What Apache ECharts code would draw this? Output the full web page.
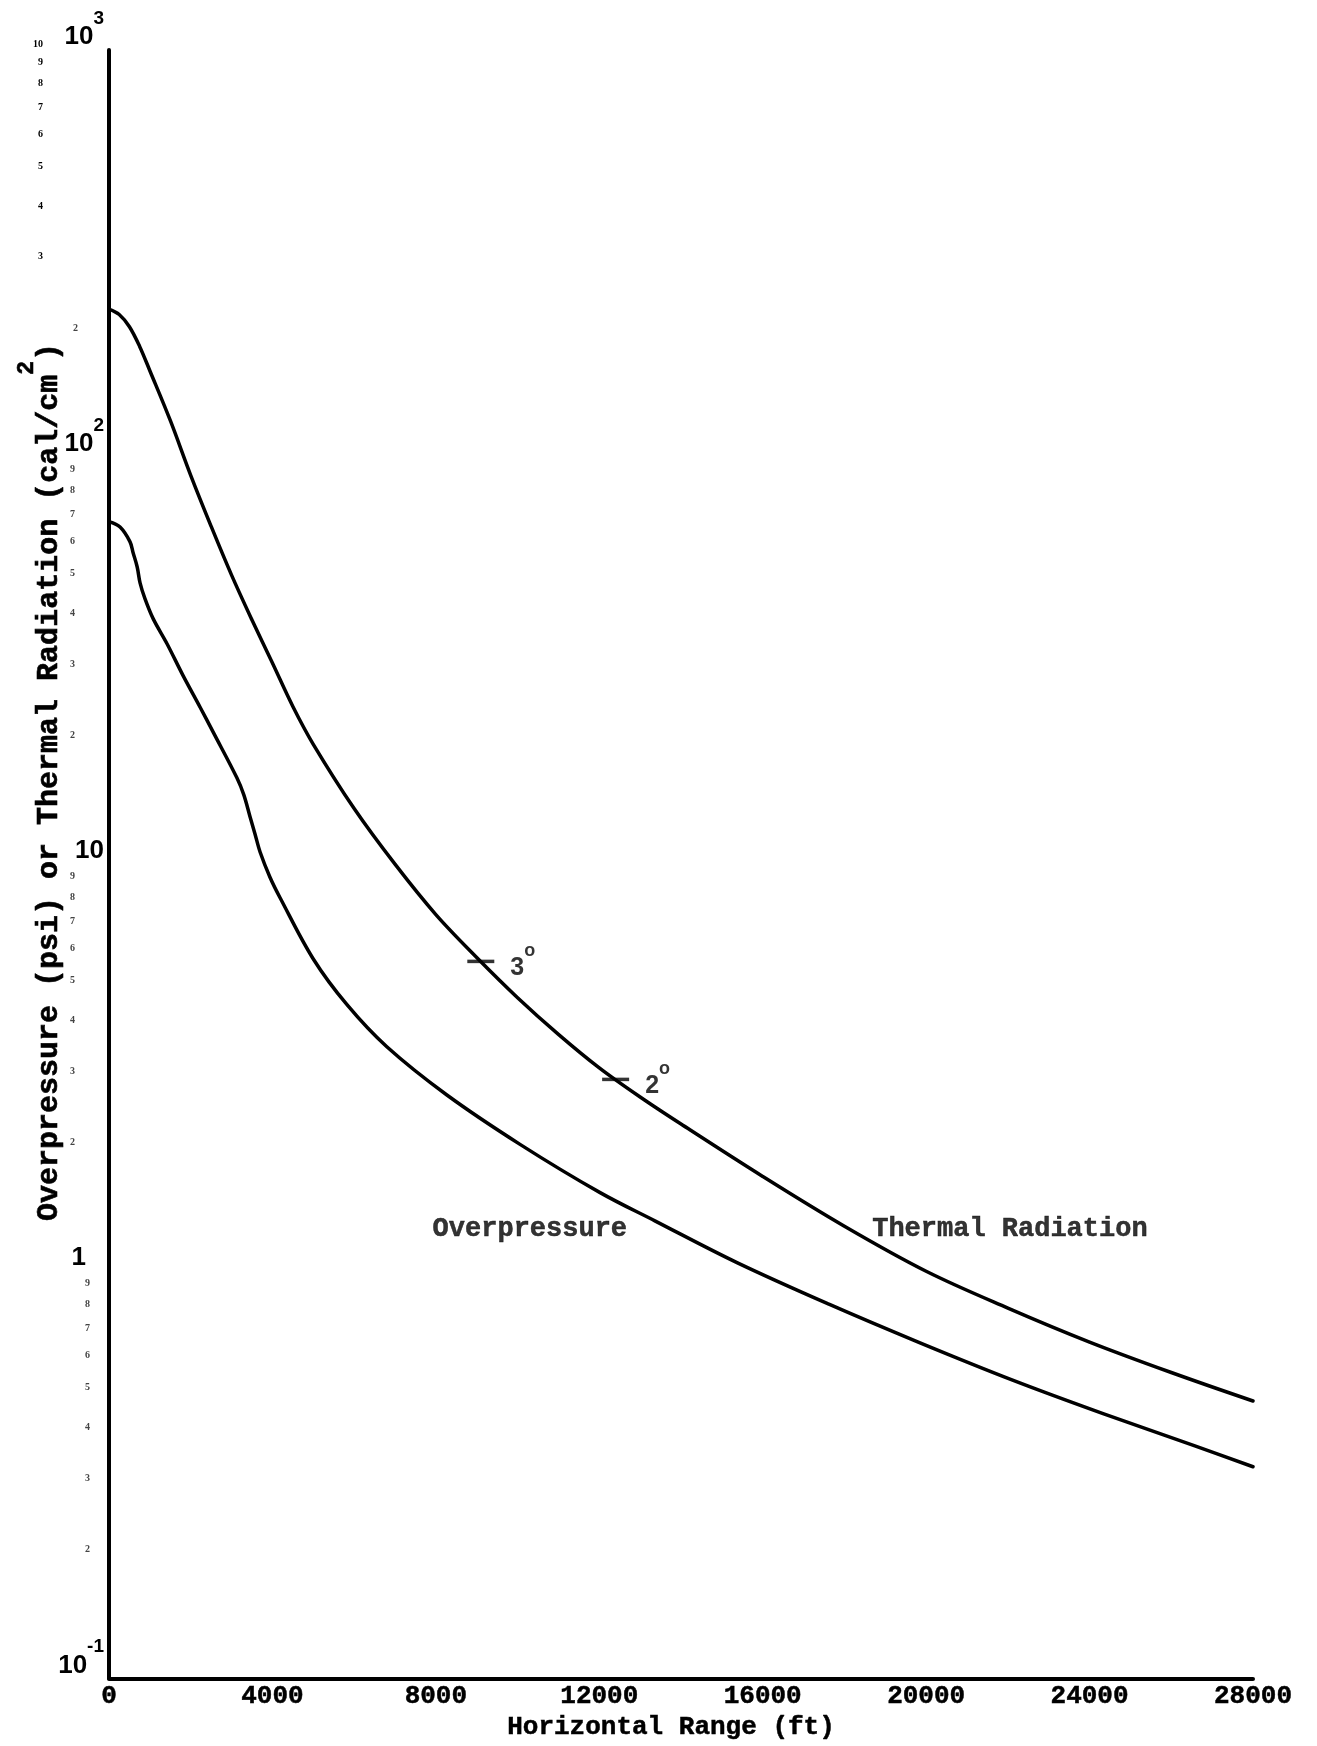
<!DOCTYPE html>
<html>
<head>
<meta charset="utf-8">
<script src="https://cdn.jsdelivr.net/npm/echarts@6/dist/echarts.min.js"></script>
<style>html,body{margin:0;padding:0;background:#fff}#c{width:1317px;height:1746px}</style>
</head>
<body>
<div id="c"></div>
<script>
// ---- data ----
const rangeThermal = [0, 250, 500, 750, 1000, 1500, 2000, 2500, 3000, 3500, 4000, 4500, 5000, 6000, 7000, 8000, 9000, 10000, 11000, 12000, 13000, 14000, 16000, 18000, 20000, 22000, 24000, 26000, 28000];
const thermal      = [231, 224, 209, 187, 163, 123, 90.2, 67.6, 51.3, 39.8, 31.2, 24.4, 19.7, 13.7, 10.0, 7.52, 5.90, 4.70, 3.82, 3.16, 2.68, 2.30, 1.71, 1.29, 1.00, 0.812, 0.670, 0.564, 0.480];

const rangeOver    = [0, 270, 515, 590, 690, 760, 880, 1080, 1420, 1810, 2230, 2550, 3130, 3300, 3450, 3570, 3700, 3940, 4190, 5000, 5830, 6800, 8270, 10060, 12020, 13360, 15370, 17620, 19850, 22100, 24330, 26560, 28000];
const overpressure = [69.4, 67.3, 61.9, 58.2, 53.7, 49.1, 44.9, 40.1, 34.8, 29.1, 24.3, 21.1, 16.3, 14.8, 13.1, 11.9, 10.7, 9.29, 8.26, 5.85, 4.51, 3.56, 2.71, 2.05, 1.56, 1.33, 1.05, 0.830, 0.667, 0.541, 0.447, 0.373, 0.331];

// elevation-angle marks on the thermal curve
const markRange = [9100, 12400];
const markValue = [5.77, 2.96];
const markAngle = ['3', '2'];

// curve name annotations
const curveLabelNames = ['Overpressure', 'Thermal Radiation'];
const curveLabelRange = [10300, 22050];
const curveLabelValue = [1.27, 1.27];

// axis tick labels
const xMin = 0, xMax = 28000, xInterval = 4000;
const yMajorExp  = [-1, 0, 1, 2, 3];
const yMajorBase = ['10', '1', '10', '10', '10'];
const yMajorSup  = ['-1', '', '', '2', '3'];
const minorTickValues = [0.2,0.3,0.4,0.5,0.6,0.7,0.8,0.9, 2,3,4,5,6,7,8,9, 20,30,40,50,60,70,80,90, 200,300,400,500,600,700,800,900,1000];
const minorTickLabels = ['2','3','4','5','6','7','8','9', '2','3','4','5','6','7','8','9', '2','3','4','5','6','7','8','9', '2','3','4','5','6','7','8','9','10'];

const xTitle = 'Horizontal Range (ft)';
const yTitleMain = 'Overpressure (psi) or Thermal Radiation (cal/cm';

// ---- chart ----
const chart = echarts.init(document.getElementById('c'), null, {renderer: 'canvas'});
const mono = '"Liberation Mono", "DejaVu Sans Mono", monospace';
const sans = '"Liberation Sans", "DejaVu Sans", sans-serif';

function minorOffset(v) {
  if (v >= 300) return 66;
  if (v >= 100) return 31;
  if (v >= 1) return 34;
  return 19;
}

const option = {
  backgroundColor: '#ffffff',
  animation: false,
  grid: {left: 109, right: 64, top: 50, bottom: 43, containLabel: false},
  xAxis: {
    type: 'value', min: xMin, max: xMax, interval: xInterval,
    name: xTitle, nameLocation: 'middle', nameGap: 24,
    nameTextStyle: {fontFamily: mono, fontWeight: 'bold', fontSize: 26, color: '#000',
      textBorderColor: '#000', textBorderWidth: 0.5, padding: [0, 20, 0, 0]},
    axisLine: {show: true, lineStyle: {color: '#000', width: 4}},
    axisTick: {show: false},
    splitLine: {show: false},
    axisLabel: {margin: 5, fontFamily: mono, fontWeight: 'bold', fontSize: 26, color: '#000',
      textBorderColor: '#000', textBorderWidth: 0.5,
      formatter: v => String(v)}
  },
  yAxis: {
    type: 'log', logBase: 10, min: 0.1, max: 1000,
    axisLine: {show: true, onZero: false, lineStyle: {color: '#000', width: 4}},
    axisTick: {show: false},
    splitLine: {show: false},
    axisLabel: {
      margin: 5, verticalAlign: 'bottom',
      formatter: function (v) {
        const e = Math.round(Math.log10(v));
        const i = yMajorExp.indexOf(e);
        if (i < 0) return '';
        if (yMajorBase[i] === '1') return '{one|1}';
        return '{b|' + yMajorBase[i] + '}' + (yMajorSup[i] ? '{s|' + yMajorSup[i] + '}' : '');
      },
      rich: {
        b: {fontFamily: sans, fontWeight: 'bold', fontSize: 26, color: '#000', lineHeight: 27, verticalAlign: 'bottom'},
        s: {fontFamily: sans, fontWeight: 'bold', fontSize: 19, color: '#000', lineHeight: 41, verticalAlign: 'top'},
        one: {fontFamily: sans, fontWeight: 'bold', fontSize: 26, color: '#000', lineHeight: 27, padding: [0, 18, 0, 0]}
      }
    }
  },
  graphic: [{
    type: 'text', x: 40, y: 782, rotation: Math.PI / 2,
    style: {
      text: '{t|' + yTitleMain + '}{s|2}{t|)}',
      align: 'center', verticalAlign: 'middle',
      rich: {
        t: {fontFamily: mono, fontWeight: 'bold', fontSize: 30, fill: '#000', stroke: '#000', lineWidth: 0.6, lineHeight: 32, verticalAlign: 'bottom'},
        s: {fontFamily: mono, fontWeight: 'bold', fontSize: 23, fill: '#000', stroke: '#000', lineWidth: 0.6, lineHeight: 48, verticalAlign: 'top'}
      }
    }
  }],
  series: [
    {
      type: 'line', name: 'Thermal Radiation',
      data: rangeThermal.map((x, i) => [x, thermal[i]]),
      smooth: 0.35, showSymbol: false, symbol: 'none',
      lineStyle: {color: '#000', width: 3.5, cap: 'round', join: 'round'},
      z: 3
    },
    {
      type: 'line', name: 'Overpressure',
      data: rangeOver.map((x, i) => [x, overpressure[i]]),
      smooth: 0.35, showSymbol: false, symbol: 'none',
      lineStyle: {color: '#000', width: 3.5, cap: 'round', join: 'round'},
      z: 3
    },
    {
      type: 'scatter', name: 'angle marks',
      data: markRange.map((x, i) => [x, markValue[i]]),
      symbol: 'rect', symbolSize: [27, 3.5],
      itemStyle: {color: '#000'},
      label: {
        show: true, position: 'right', distance: 16,
        formatter: p => '{d|' + markAngle[p.dataIndex] + '}{o|o}',
        rich: {
          d: {fontFamily: sans, fontWeight: 'bold', fontSize: 25, color: '#000', lineHeight: 26, verticalAlign: 'bottom'},
          o: {fontFamily: sans, fontWeight: 'bold', fontSize: 18, color: '#000', lineHeight: 38, verticalAlign: 'top'}
        }
      },
      z: 4, silent: true
    },
    {
      type: 'scatter', name: 'curve names',
      data: curveLabelRange.map((x, i) => ({value: [x, curveLabelValue[i]], name: curveLabelNames[i]})),
      symbolSize: 1,
      itemStyle: {color: 'rgba(0,0,0,0)'},
      label: {
        show: true, position: 'inside', formatter: p => p.name,
        fontFamily: mono, fontWeight: 'bold', fontSize: 27, color: '#000',
        textBorderColor: '#000', textBorderWidth: 0.5
      },
      z: 4, silent: true
    },
    {
      type: 'custom', name: 'minor labels', clip: false, silent: true,
      data: minorTickValues.map(v => [0, v]),
      encode: {x: 0, y: 1},
      renderItem: function (params, api) {
        const v = api.value(1);
        const p = api.coord([0, v]);
        const top = v >= 300;
        return {
          type: 'text', x: p[0] - minorOffset(v), y: p[1] - 1,
          style: {
            text: minorTickLabels[params.dataIndex],
            fill: top ? '#000' : '#444',
            font: 'bold 10px "Liberation Serif", serif',
            align: 'right', verticalAlign: 'bottom'
          }
        };
      },
      z: 2
    }
  ]
};
chart.setOption(option);
</script>
</body>
</html>
